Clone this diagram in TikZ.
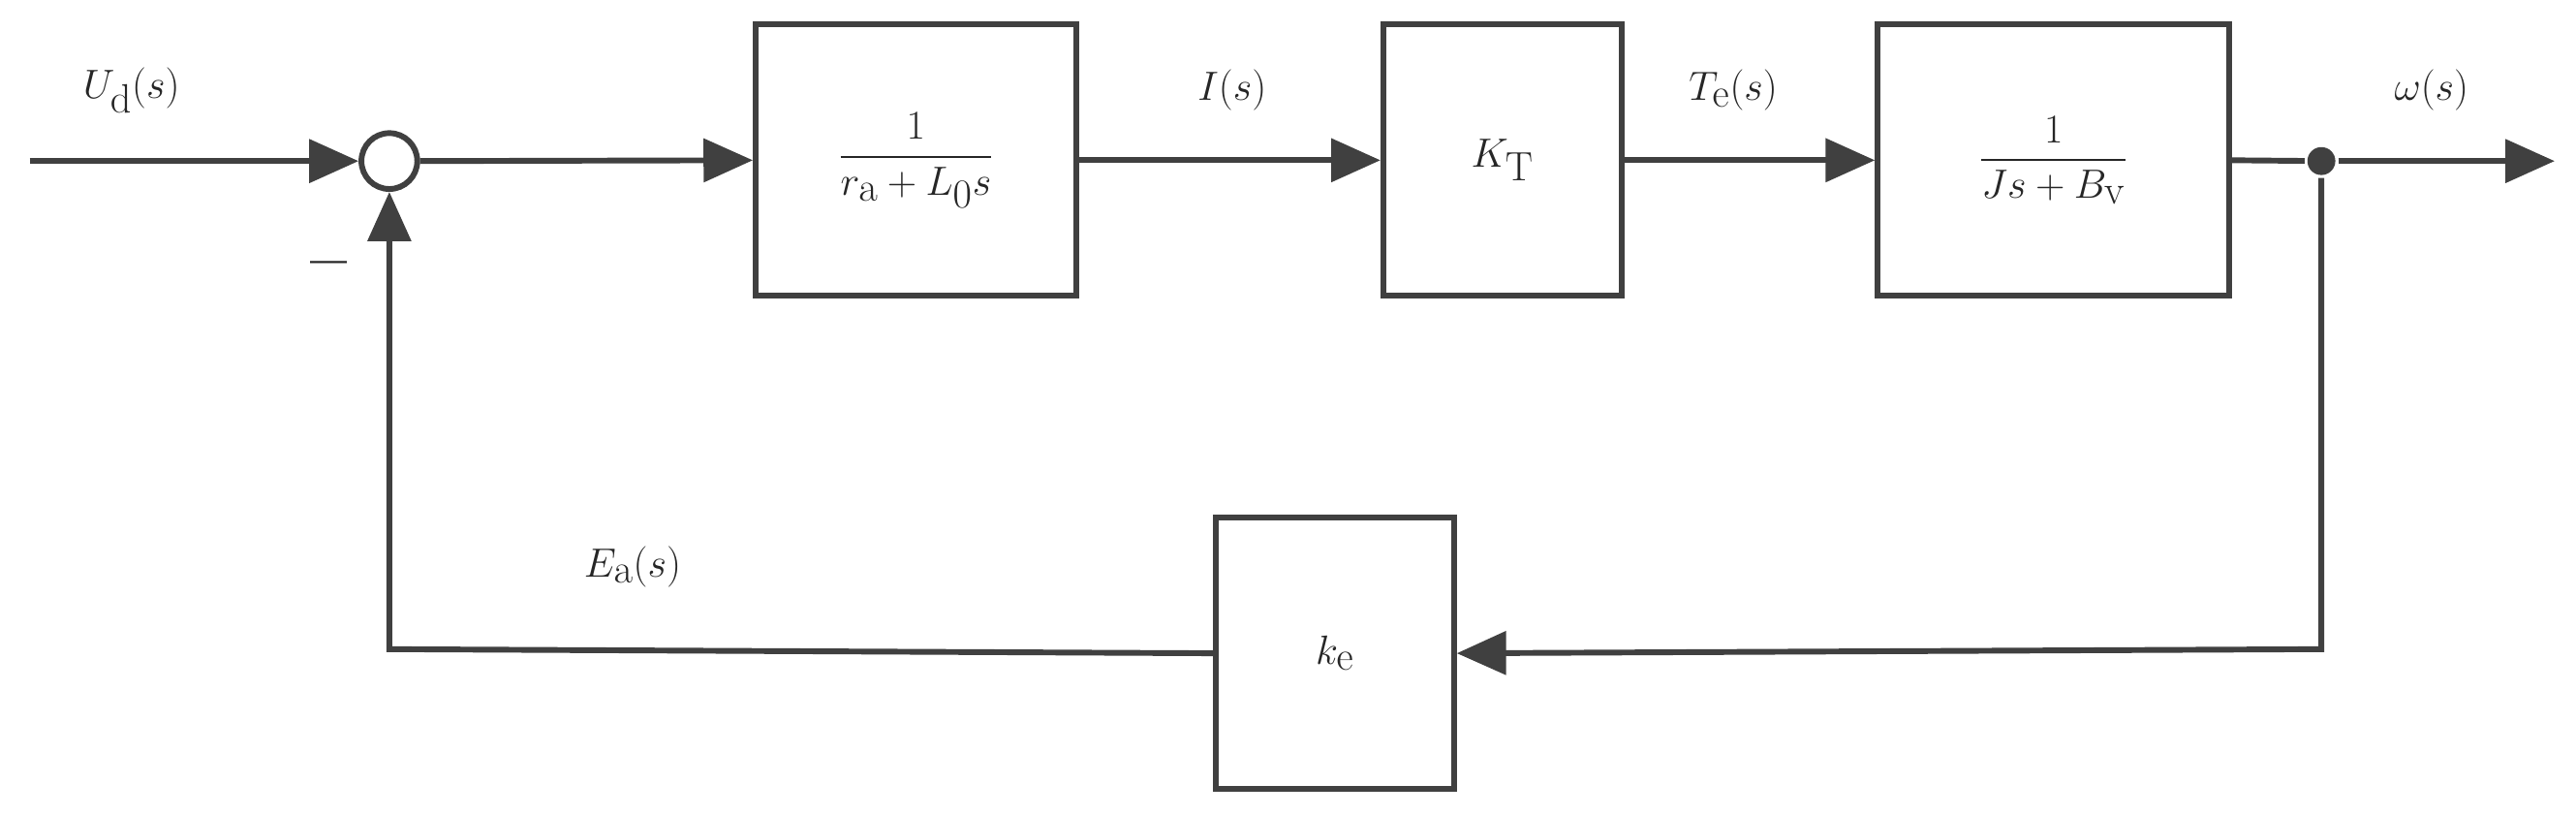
\documentclass[tikz,border=0pt]{standalone}
\usepackage{amsmath}
\usetikzlibrary{arrows.meta}
\begin{document}
\begin{tikzpicture}[x=1pt,y=-1pt,
  line width=3.5pt, color={black!75},
  blk/.style={draw, line width=3.5pt, rectangle, minimum width=#1, minimum height=165pt, inner sep=0pt},
  arr/.style={-{Triangle[length=30pt,width=26pt]}},
  lab/.style={font=\fontsize{40}{48}\selectfont, text=black!85},
  every node/.style={font=\fontsize{40}{48}\selectfont, text=black!85}]
\useasboundingbox (0,0) rectangle (1568,496);
\coordinate (in) at (18,98);
\node[circle, draw, line width=3.5pt, minimum size=34pt, inner sep=0pt] (sum) at (237,98) {};
\node[blk=195pt] (g1) at (557.5,97.5) {$\dfrac{1}{r_{\mathrm{a}}+L_0 s}$};
\node[blk=145pt] (g2) at (914.5,97.5) {$K_{\mathrm{T}}$};
\node[blk=214pt] (g3) at (1250,97.5) {$\dfrac{1}{Js+B_{\mathrm{v}}}$};
\node[blk=145pt] (ke) at (812.5,397.5) {$k_{\mathrm{e}}$};
\node[circle, fill, inner sep=0pt, minimum size=17pt] (dot) at (1413,98) {};
\coordinate (out) at (1555,98);
\coordinate (c1) at (1413,395);
\coordinate (c2) at (237,395);
\draw[arr] (in) -- (sum.west);
\draw[arr] (sum.east) -- (g1.west);
\draw[arr] (g1.east) -- (g2.west);
\draw[arr] (g2.east) -- (g3.west);
\draw (g3.east) -- (dot);
\draw[arr] (dot) -- (out);
\draw[arr] (dot) -- (c1) -- (ke.east);
\draw[arr] (ke.west) -- (c2) -- (sum.south);
\node[lab] (lu) at (80,55) {$U_{\mathrm{d}}(s)$};
\node[lab] (li) at (750,55) {$I(s)$};
\node[lab] (lt) at (1055,55) {$T_{\mathrm{e}}(s)$};
\node[lab] (lw) at (1480,55) {$\omega(s)$};
\node[lab] (le) at (385,345) {$E_{\mathrm{a}}(s)$};
\node[lab] (lm) at (200,165) {\textbf{--}};
\end{tikzpicture}
\end{document}
